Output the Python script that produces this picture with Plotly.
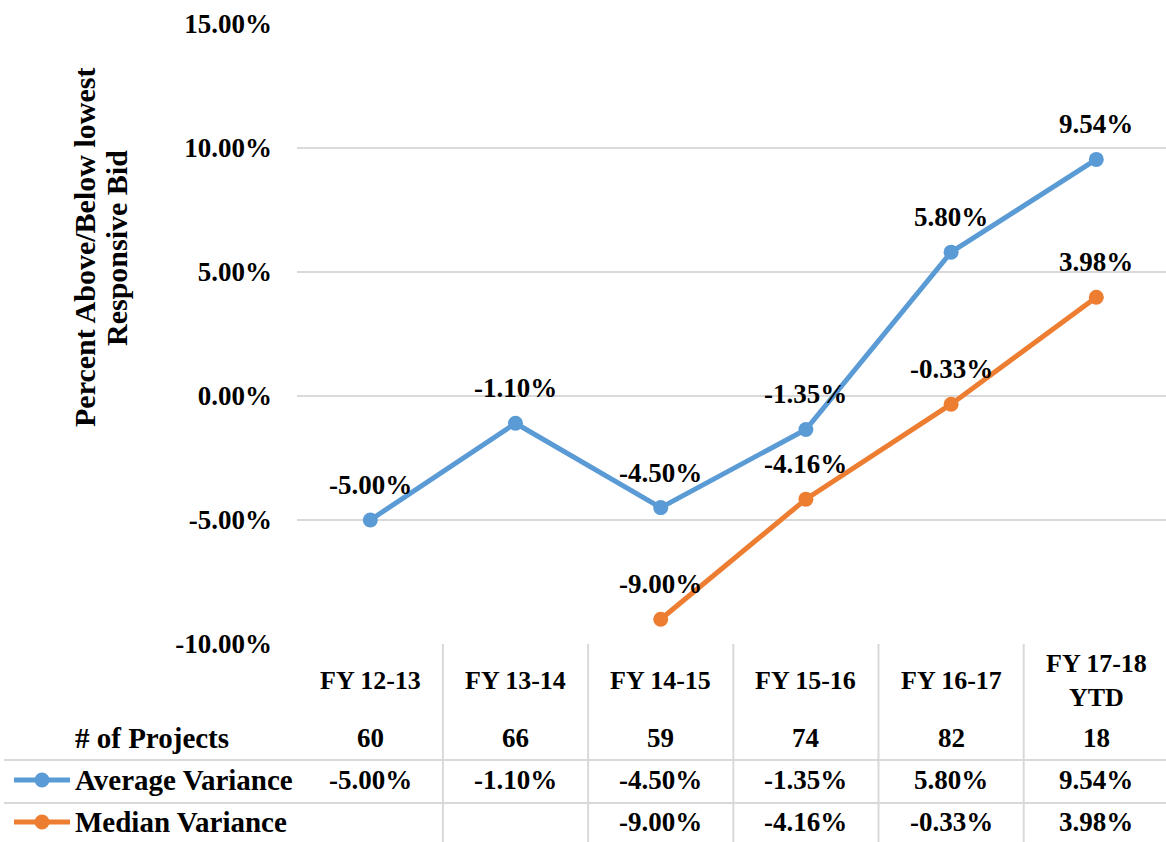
import plotly.graph_objects as go

categories = ["FY 12-13", "FY 13-14", "FY 14-15", "FY 15-16", "FY 16-17", "FY 17-18<br>YTD"]
projects = [60, 66, 59, 74, 82, 18]
average_variance = [-0.0500, -0.0110, -0.0450, -0.0135, 0.0580, 0.0954]
median_variance = [None, None, -0.0900, -0.0416, -0.0033, 0.0398]
y_tickvals = [-0.10, -0.05, 0.0, 0.05, 0.10, 0.15]
y_ticktext = ["-10.00%", "-5.00%", "0.00%", "5.00%", "10.00%", "15.00%"]

BLUE = "#5B9BD5"
ORANGE = "#ED7D31"
GRID = "#D9D9D9"
FONT = "Liberation Serif, serif"

W, H = 1166, 842
L, R, T, B = 297, 0, 24, 198
PW, PH = W - L - R, H - T - B
XR = [-0.505, 5.48]


def px_x(px):
    return (px - L) / PW


def px_y(py):
    return (H - B - py) / PH


def cat_x(c):
    return (c - XR[0]) / (XR[1] - XR[0])


def fmt(v):
    return "" if v is None else f"{v*100:.2f}%"


def fnt(size):
    return dict(family=FONT, size=size, color="black", weight="bold")


idx = list(range(len(categories)))

fig = go.Figure()
fig.add_trace(go.Scatter(x=idx, y=average_variance, mode="lines+markers",
                         line=dict(color=BLUE, width=5),
                         marker=dict(size=15, color=BLUE), name="Average Variance"))
fig.add_trace(go.Scatter(x=idx, y=median_variance, mode="lines+markers",
                         line=dict(color=ORANGE, width=5),
                         marker=dict(size=15, color=ORANGE), name="Median Variance"))

ann = []
# data labels
for series in (average_variance, median_variance):
    for i, v in zip(idx, series):
        if v is None:
            continue
        ann.append(dict(x=i, y=v, xref="x", yref="y", text=fmt(v), showarrow=False,
                        yshift=35, font=fnt(27), xanchor="center", yanchor="middle"))


def table_text(x, py, text, size, xanchor="center"):
    ann.append(dict(x=x, y=px_y(py), xref="paper", yref="paper", text=text,
                    showarrow=False, font=fnt(size), xanchor=xanchor, yanchor="middle"))


row_y = {"cat": 681, "proj": 738, "avg": 780, "med": 822}
for i, c in zip(idx, categories):
    table_text(cat_x(i), row_y["cat"], c, 26)
for i, p in zip(idx, projects):
    table_text(cat_x(i), row_y["proj"], str(p), 27)
for i, v in zip(idx, average_variance):
    table_text(cat_x(i), row_y["avg"], fmt(v), 27)
for i, v in zip(idx, median_variance):
    if v is not None:
        table_text(cat_x(i), row_y["med"], fmt(v), 27)

table_text(px_x(152), row_y["proj"], "# of Projects", 29)
table_text(px_x(73), row_y["avg"], "Average Variance", 29, xanchor="left")
table_text(px_x(73), row_y["med"], "Median Variance", 29, xanchor="left")

# y axis title (two lines)
ann.append(dict(x=px_x(84), y=px_y(248), xref="paper", yref="paper",
                text="Percent Above/Below lowest", textangle=-90, showarrow=False,
                font=fnt(30), xanchor="center", yanchor="middle"))
ann.append(dict(x=px_x(116), y=px_y(248), xref="paper", yref="paper",
                text="Responsive Bid", textangle=-90, showarrow=False,
                font=fnt(30), xanchor="center", yanchor="middle"))

shapes = []
# table horizontal lines
for py in (760, 803):
    shapes.append(dict(type="line", xref="paper", yref="paper", x0=px_x(4), x1=px_x(W),
                       y0=px_y(py), y1=px_y(py), line=dict(color=GRID, width=2)))
# table vertical lines at category boundaries
for i in idx[:-1]:
    shapes.append(dict(type="line", xref="paper", yref="paper", x0=cat_x(i + 0.5),
                       x1=cat_x(i + 0.5), y0=0, y1=px_y(H), line=dict(color=GRID, width=2)))
# legend keys
for py, col in ((row_y["avg"], BLUE), (row_y["med"], ORANGE)):
    shapes.append(dict(type="line", xref="paper", yref="paper", x0=px_x(14), x1=px_x(70),
                       y0=px_y(py), y1=px_y(py), line=dict(color=col, width=5)))
    shapes.append(dict(type="circle", xref="paper", yref="paper", xsizemode="pixel",
                       ysizemode="pixel", xanchor=px_x(42), yanchor=px_y(py),
                       x0=-7.5, x1=7.5, y0=-7.5, y1=7.5, fillcolor=col, line=dict(width=0)))

fig.update_layout(
    width=W, height=H, autosize=False,
    margin=dict(l=L, r=R, t=T, b=B, pad=0),
    paper_bgcolor="white", plot_bgcolor="white",
    showlegend=False,
    font=dict(family=FONT, size=26, color="black"),
    annotations=ann, shapes=shapes,
    xaxis=dict(range=XR, showgrid=False, zeroline=False, showticklabels=False,
               showline=False, fixedrange=True),
    yaxis=dict(range=[-0.10, 0.15], tickvals=y_tickvals, ticktext=y_ticktext,
               showgrid=True, gridcolor=GRID, gridwidth=2, zeroline=True,
               zerolinecolor=GRID, zerolinewidth=2, showline=False,
               ticks="", ticklabelstandoff=24,
               tickfont=fnt(27), fixedrange=True),
)

fig.write_html("out.html", config={"displayModeBar": False},
               post_script="document.body.style.margin='0';")
